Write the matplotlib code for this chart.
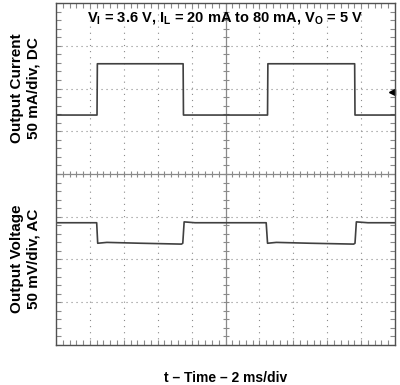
import numpy as np
import matplotlib.pyplot as plt

plt.rcParams['font.family'] = ['Liberation Sans', 'DejaVu Sans']

# Oscilloscope screen: 10 div across (2 ms/div), 8 div high
ms_per_div = 2.0

# Output current trace (mA), 50 mA/div, DC
t_i = [0, 2.42, 2.44, 7.50, 7.52, 12.48, 12.50, 17.62, 17.64, 20]
i_ma = [20, 20, 80, 80, 20, 20, 80, 80, 20, 20]
i_zero_div = 0.98

# Output voltage trace (mV), 50 mV/div, AC
t_v = [0, 2.40, 2.46, 3.0, 5.0, 7.40, 7.48, 7.56, 8.2, 12.40, 12.48, 13.0, 15.0, 17.56, 17.64, 17.72, 18.4, 20]
v_mv = [0, 0, -24, -23, -24, -25, -24, 1, 0, 0, -24, -23, -24, -25, -24, 1, 0, 0]
v_zero_div = -1.14

title = r'V$_\mathregular{I}$ = 3.6 V, I$_\mathregular{L}$ = 20 mA to 80 mA, V$_\mathregular{O}$ = 5 V'

fig = plt.figure(figsize=(4.0, 3.85), dpi=100)
ax = fig.add_axes([0.14, 0.104, 0.8475, 0.888])
ax.set_xlim(0, 10)
ax.set_ylim(-4, 4)

gc = '#8a8a8a'
# dotted graticule
for x in range(1, 10):
    if x != 5:
        ax.plot([x, x], [-4, 4], color=gc, lw=0.8, ls=(0, (1, 4.5)))
for y in range(-3, 4):
    if y != 0:
        ax.plot([0, 10], [y, y], color=gc, lw=0.8, ls=(0, (1, 3.5)))

# centre lines and edges with minor ticks
ax.axhline(0, color=gc, lw=0.9)
ax.axvline(5, color=gc, lw=0.9)
mx = np.arange(0, 10.01, 0.2)
my = np.arange(-4, 4.01, 0.2)
ax.plot(mx, np.zeros_like(mx), ls='none', marker='|', ms=5, color=gc, mew=0.8)
ax.plot(np.full_like(my, 5), my, ls='none', marker='_', ms=5, color=gc, mew=0.8)
ax.plot(mx, np.full_like(mx, -4), ls='none', marker='|', ms=7, color=gc, mew=0.8)
ax.plot(mx, np.full_like(mx, 4), ls='none', marker='|', ms=7, color=gc, mew=0.8)
ax.plot(np.full_like(my, 0), my, ls='none', marker='_', ms=7, color=gc, mew=0.8)
ax.plot(np.full_like(my, 10), my, ls='none', marker='_', ms=7, color=gc, mew=0.8)

# traces
ax.plot(np.array(t_i) / ms_per_div, np.array(i_ma) / 50.0 + i_zero_div, color='#404040', lw=1.2)
ax.plot(np.array(t_v) / ms_per_div, np.array(v_mv) / 50.0 + v_zero_div, color='#404040', lw=1.2)

# ground marker
ax.plot([9.9], [1.92], marker='<', ms=4.5, color='black', clip_on=False)

for s in ax.spines.values():
    s.set_color('#505050')
    s.set_linewidth(1.0)
ax.set_xticks([])
ax.set_yticks([])

ax.text(5, 3.64, title, ha='center', va='center', fontsize=10.5, fontweight='bold')

fig.text(0.0625, 0.772, 'Output Current\n50 mA/div, DC', rotation=90, ha='center', va='center',
         fontsize=11, fontweight='bold', multialignment='center', linespacing=1.25)
fig.text(0.0625, 0.327, 'Output Voltage\n50 mV/div, AC', rotation=90, ha='center', va='center',
         fontsize=11, fontweight='bold', multialignment='center', linespacing=1.25)
fig.text(0.565, 0.018, 't \u2013 Time \u2013 2 ms/div', ha='center', va='center', fontsize=10,
         fontweight='bold')

fig.savefig('out.png', dpi=100)
